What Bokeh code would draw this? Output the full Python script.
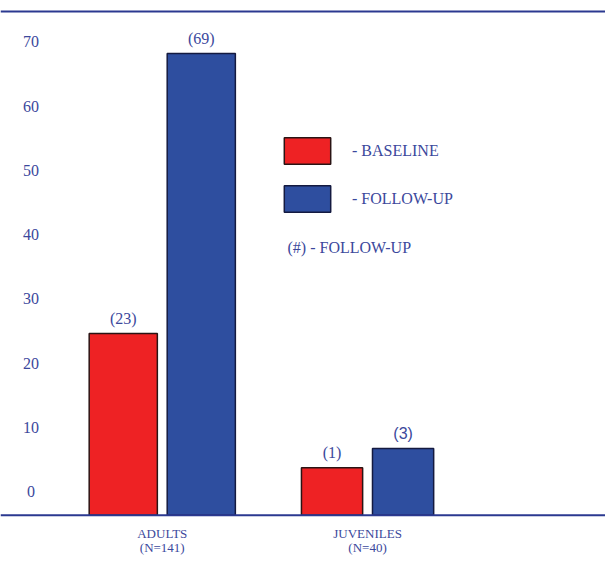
from bokeh.plotting import figure
from bokeh.models import ColumnDataSource, Range1d, Span, Legend, LegendItem, Label
from bokeh.core.properties import value
from bokeh.embed import file_html
from bokeh.resources import INLINE
import numpy as np

# ---- data ----
groups = ["ADULTS", "JUVENILES"]
group_labels = ["ADULTS\n(N=141)", "JUVENILES\n(N=40)"]
baseline = [24.6, 3.7]
followup = [68.2, 6.7]
baseline_counts = ["(23)", "(1)"]
followup_counts = ["(69)", "(3)"]
y_ticks = [0, 10, 20, 30, 40, 50, 60, 70]
axis_floor = -3.7

# ---- style ----
RED = "#ee2224"
BLUE = "#2e4e9f"
NAVY_TEXT = "#3b489c"
NAVY_LINE = "#2b3990"
SERIF = "Liberation Serif"
SANS = "Liberation Sans"

offsets = [0.19, 0.173]
widths = [0.332, 0.298]

xi = np.arange(len(groups))
base_src = ColumnDataSource(dict(
    x=xi - np.array(offsets), top=baseline, w=widths, lab=baseline_counts,
    font=[SERIF, SERIF]))
fu_src = ColumnDataSource(dict(
    x=xi + np.array(offsets), top=followup, w=widths, lab=followup_counts,
    font=[SERIF, SANS]))

p = figure(width=605, height=556, output_backend="svg", toolbar_location=None,
           x_range=Range1d(-0.788, 2.159), y_range=Range1d(-10.13, 76.45),
           x_axis_location=None, y_axis_location=None, min_border=0,
           outline_line_color=None)
p.xgrid.visible = False
p.ygrid.visible = False

r_base = p.vbar(x="x", top="top", bottom=axis_floor, width="w", source=base_src,
                fill_color=RED, line_color="#2a1414", line_width=1.5)
r_fu = p.vbar(x="x", top="top", bottom=axis_floor, width="w", source=fu_src,
              fill_color=BLUE, line_color="#141a40", line_width=1.5)

# value labels above bars
for src in (base_src, fu_src):
    p.text(x="x", y="top", text="lab", source=src, text_font="font",
           text_font_size="16px", text_color=NAVY_TEXT, text_align="center",
           text_baseline="middle", y_offset=-15)

# tick labels
p.text(x=[-0.64] * len(y_ticks), y=y_ticks, text=[str(t) for t in y_ticks],
       text_font=value(SERIF), text_font_size="16px", text_color=NAVY_TEXT,
       text_align="center", text_baseline="middle")

# category labels
p.text(x=xi, y=[axis_floor] * len(groups), text=group_labels,
       text_font=value(SERIF), text_font_size="13px", text_color=NAVY_TEXT,
       text_align="center", text_baseline="top", y_offset=11,
       text_line_height=0.95)

# top and bottom rules
p.add_layout(Span(location=74.75, dimension="width", line_color=NAVY_LINE, line_width=2))
p.add_layout(Span(location=axis_floor, dimension="width", line_color=NAVY_LINE, line_width=2))

legend = Legend(items=[LegendItem(label="- BASELINE", renderers=[r_base], index=0),
                       LegendItem(label="- FOLLOW-UP", renderers=[r_fu], index=0)],
                location=(278, 341), glyph_width=58, glyph_height=33,
                spacing=15, label_standoff=16, padding=0, margin=0,
                border_line_color=None, background_fill_alpha=0,
                label_text_font=SERIF, label_text_font_size="16px",
                label_text_color=NAVY_TEXT)
p.add_layout(legend)

p.add_layout(Label(x=287, y=309, x_units="screen", y_units="screen",
                   text="(#) - FOLLOW-UP", text_font=SERIF, text_font_size="16px",
                   text_color=NAVY_TEXT, text_baseline="middle"))

open("out.html", "w").write(file_html(p, INLINE))
